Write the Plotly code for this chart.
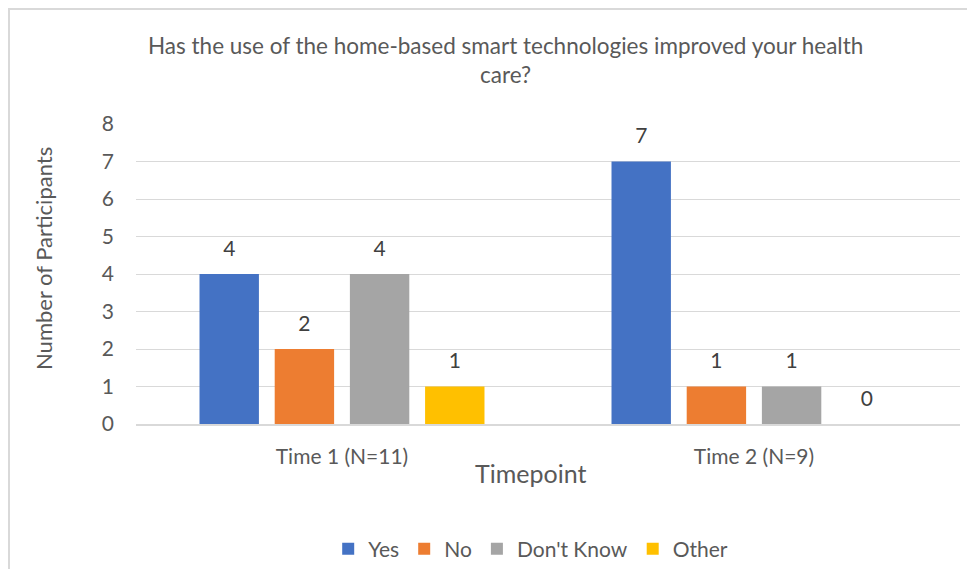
import plotly.graph_objects as go

timepoints = ["Time 1 (N=11)", "Time 2 (N=9)"]
answers = ["Yes", "No", "Don't Know", "Other"]
yes_counts = [4, 7]
no_counts = [2, 1]
dont_know_counts = [4, 1]
other_counts = [1, 0]
y_ticks = [0, 1, 2, 3, 4, 5, 6, 7, 8]

series = [yes_counts, no_counts, dont_know_counts, other_counts]
colors = ["#4472C4", "#ED7D31", "#A5A5A5", "#FFC000"]
FONT = "Lato"
GREY = "#595959"

fig = go.Figure()

for name, vals, col in zip(answers, series, colors):
    fig.add_trace(go.Bar(
        x=timepoints, y=vals, name=name, offsetgroup=name,
        marker=dict(color=col, line_width=0),
    ))

# value labels: grouped text points sitting on top of each bar
for name, vals in zip(answers, series):
    fig.add_trace(go.Scatter(
        x=timepoints, y=vals, mode="markers+text", offsetgroup=name,
        text=vals, textposition="top center",
        textfont=dict(family=FONT, size=21, color="#404040"),
        marker=dict(size=19, opacity=0),
        showlegend=False, hoverinfo="skip", cliponaxis=False,
    ))

# the page body has an 8px margin, so the figure is drawn 8px smaller
fig.update_layout(
    width=967, height=561,
    margin=dict(l=128, r=15, t=116, b=145),
    paper_bgcolor="white", plot_bgcolor="white",
    barmode="group", bargap=0.27, bargroupgap=0.21,
    scattermode="group", scattergap=0.27,
    font=dict(family=FONT, color=GREY, size=21),
    legend=dict(
        orientation="h", xref="paper", x=0.479, xanchor="center",
        yref="container", y=1 - 541 / 561, yanchor="middle",
        font=dict(family=FONT, size=21, color=GREY),
        itemwidth=30, traceorder="normal",
    ),
)

fig.update_yaxes(
    range=[0, 8], tickvals=y_ticks, showgrid=True, gridcolor="#D9D9D9", gridwidth=1,
    zeroline=False, showline=False, ticks="", ticklabelstandoff=21,
    tickfont=dict(family=FONT, size=21, color=GREY),
)
fig.update_xaxes(
    showline=True, linecolor="#D9D9D9", linewidth=1.5, ticks="",
    ticklabelstandoff=13,
    tickfont=dict(family=FONT, size=21, color=GREY),
)

# title and axis titles
fig.add_annotation(text="Has the use of the home-based smart technologies improved your health<br>care?",
                   xref="paper", yref="paper", x=0.448, y=1.213, xanchor="center", yanchor="middle",
                   showarrow=False, font=dict(family=FONT, size=22.5, color=GREY))
fig.add_annotation(text="Timepoint", xref="paper", yref="paper", x=0.479, y=-0.163,
                   xanchor="center", yanchor="middle",
                   showarrow=False, font=dict(family=FONT, size=25, color=GREY))
fig.add_annotation(text="Number of Participants", xref="paper", yref="paper", x=-0.113, y=0.553,
                   xanchor="center", yanchor="middle", textangle=-90,
                   showarrow=False, font=dict(family=FONT, size=22, color=GREY))

# chart border
fig.add_shape(type="rect", xref="paper", yref="paper", x0=-0.1541, x1=1.1, y0=-0.6, y1=1.383,
              line=dict(color="#D9D9D9", width=2), fillcolor="rgba(0,0,0,0)", layer="below")

fig.write_html("out.html")
